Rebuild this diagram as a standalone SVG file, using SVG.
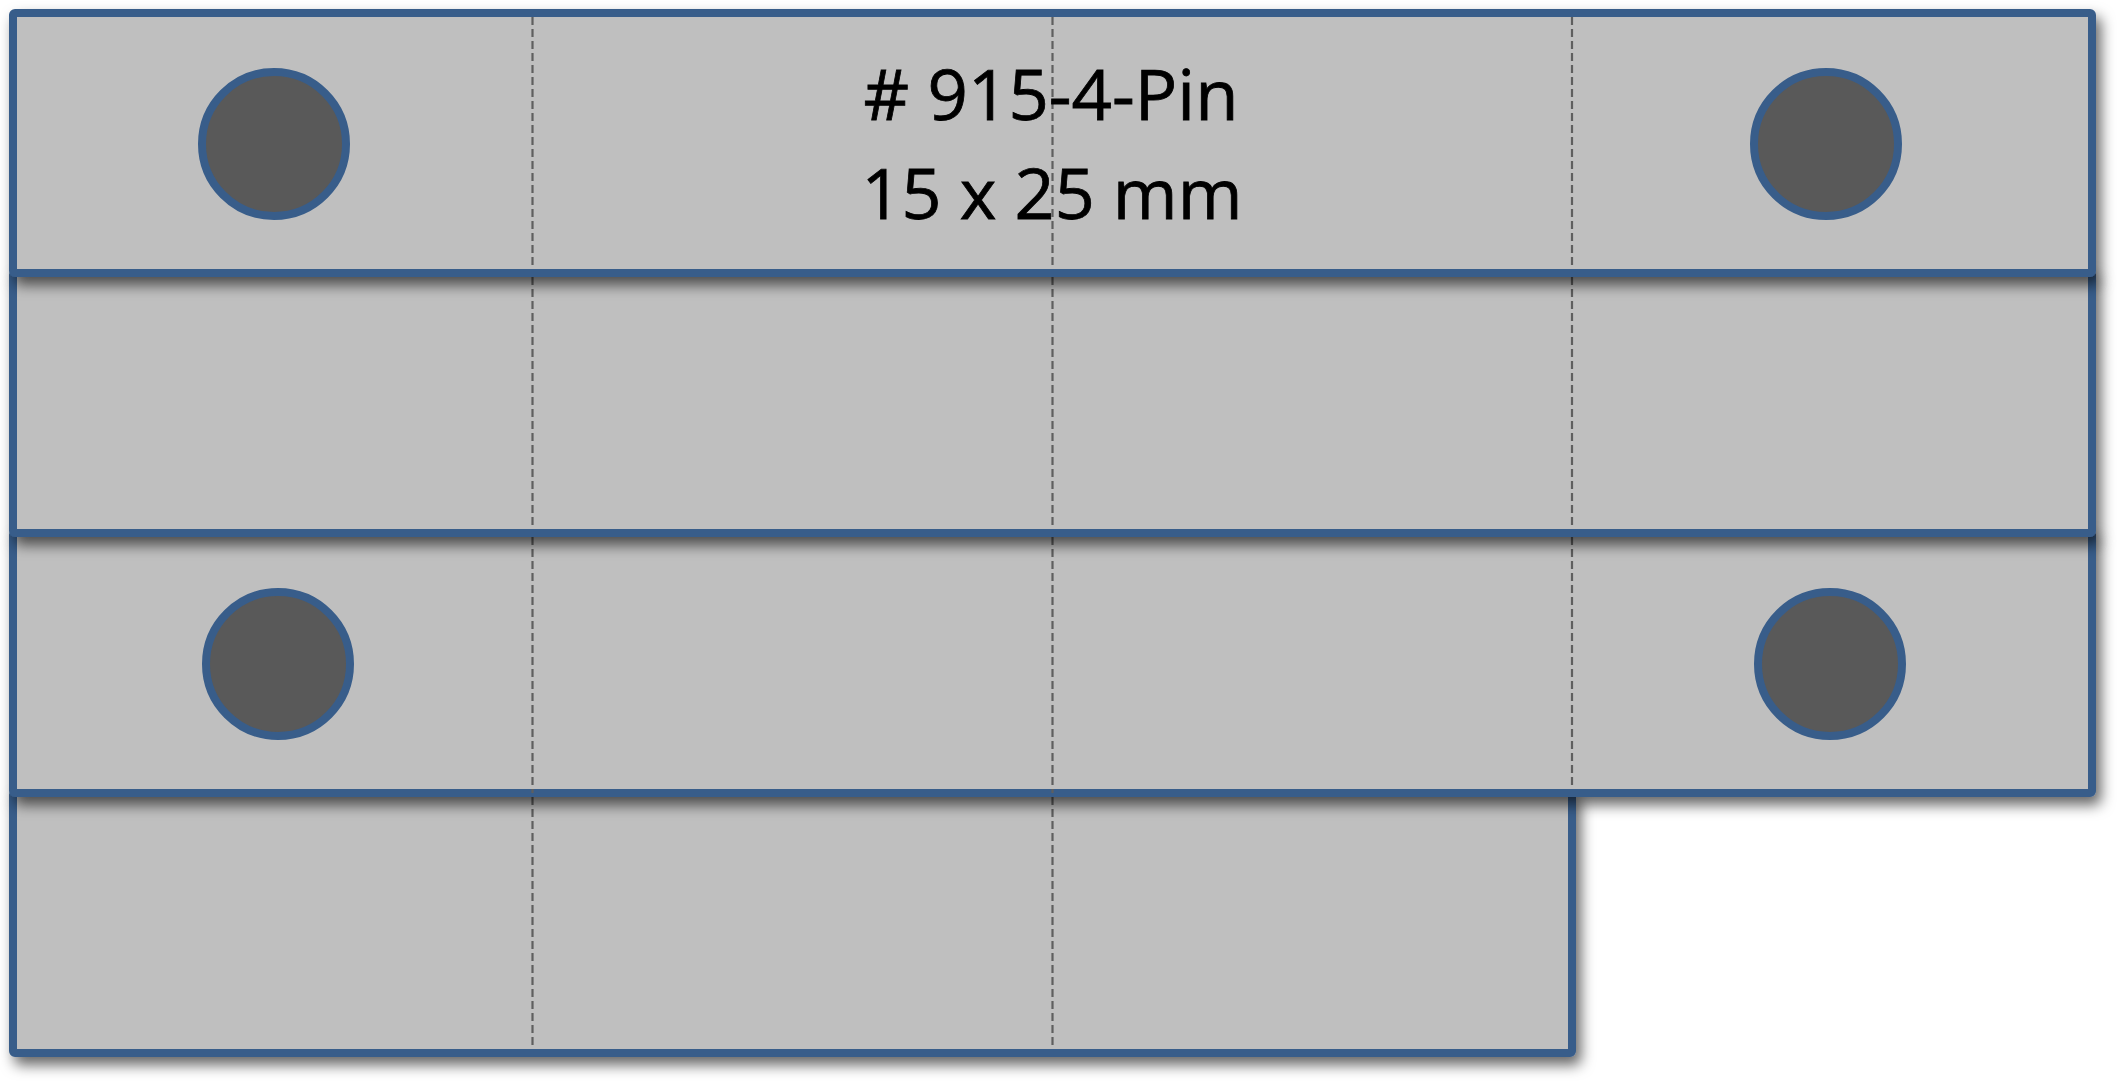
<svg xmlns="http://www.w3.org/2000/svg" width="2125" height="1086" viewBox="0 0 2125 1086">
  <defs>
    <filter id="sh" x="-5%" y="-25%" width="115%" height="160%">
      <feDropShadow dx="5" dy="8" stdDeviation="7" flood-color="#000" flood-opacity="0.6"/>
    </filter>
  </defs>
  <style>
    .row { fill: #bfbfbf; stroke: #385d8a; stroke-width: 8; filter: url(#sh); }
    .pin { fill: #595959; stroke: #385d8a; stroke-width: 8; }
    .cut { stroke: #5f5f5f; stroke-width: 2.2; stroke-dasharray: 8 4; fill: none; }
    .lbl { font-family: "Open Sans", "Liberation Sans", sans-serif; font-size: 70px; fill: #000; text-anchor: middle; stroke: #000; stroke-width: 0.8; }
  </style>
  <rect width="2125" height="1086" fill="#ffffff"/>

  <g id="row4">
    <rect class="row" x="13" y="793" width="1559" height="260" rx="2"/>
    <line class="cut" x1="532.5" y1="797" x2="532.5" y2="1049"/>
    <line class="cut" x1="1052.5" y1="797" x2="1052.5" y2="1049"/>
  </g>

  <g id="row3">
    <rect class="row" x="13" y="533" width="2079" height="260" rx="2"/>
    <line class="cut" x1="532.5" y1="537" x2="532.5" y2="793"/>
    <line class="cut" x1="1052.5" y1="537" x2="1052.5" y2="793"/>
    <line class="cut" x1="1572" y1="537" x2="1572" y2="789"/>
    <circle class="pin" cx="278" cy="664" r="72"/>
    <circle class="pin" cx="1830" cy="664" r="72"/>
  </g>

  <g id="row2">
    <rect class="row" x="13" y="273" width="2079" height="260" rx="2"/>
    <line class="cut" x1="532.5" y1="277" x2="532.5" y2="529"/>
    <line class="cut" x1="1052.5" y1="277" x2="1052.5" y2="529"/>
    <line class="cut" x1="1572" y1="277" x2="1572" y2="529"/>
  </g>

  <g id="row1">
    <rect class="row" x="13" y="13" width="2079" height="260" rx="2"/>
    <line class="cut" x1="532.5" y1="17" x2="532.5" y2="269"/>
    <line class="cut" x1="1052.5" y1="17" x2="1052.5" y2="269"/>
    <line class="cut" x1="1572" y1="17" x2="1572" y2="269"/>
    <circle class="pin" cx="274" cy="144" r="72"/>
    <circle class="pin" cx="1826" cy="144" r="72"/>
    <text class="lbl" x="1051" y="120" textLength="375" lengthAdjust="spacingAndGlyphs"># 915-4-Pin</text>
    <text class="lbl" x="1052" y="219" textLength="381" lengthAdjust="spacingAndGlyphs">15 x 25 mm</text>
  </g>

  <g id="connectors"></g>
</svg>
